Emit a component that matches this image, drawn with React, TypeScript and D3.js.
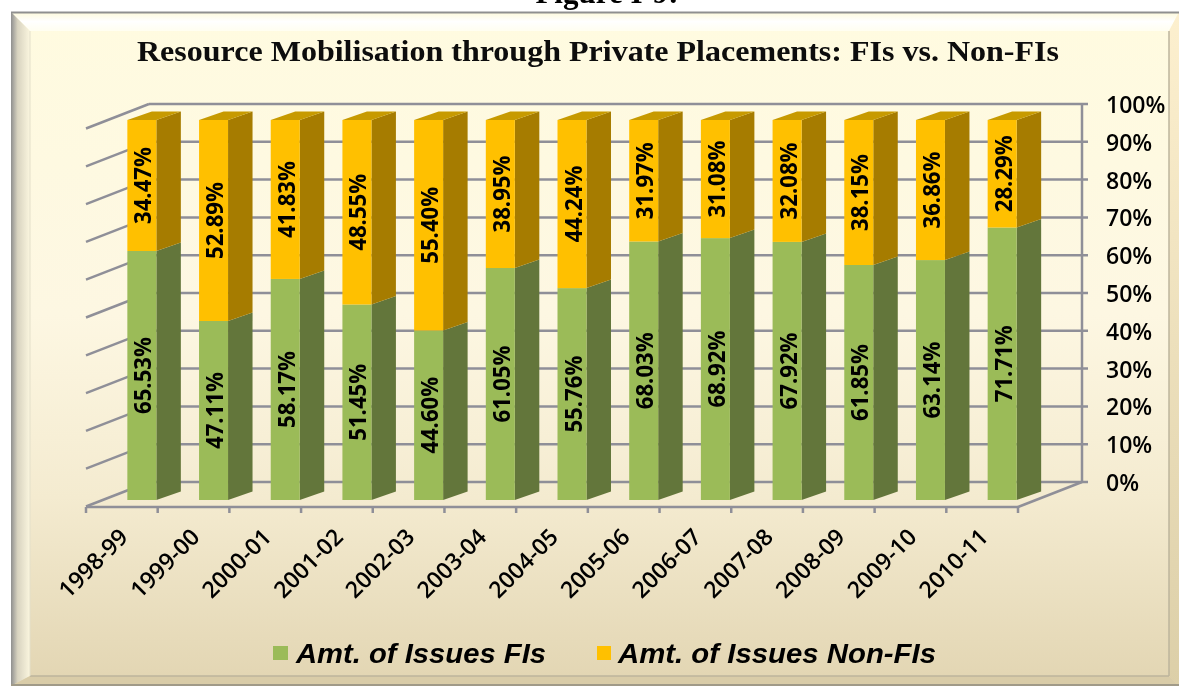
import React from "react";
import * as d3 from "d3";

const categories = ["1998-99","1999-00","2000-01","2001-02","2002-03","2003-04","2004-05","2005-06","2006-07","2007-08","2008-09","2009-10","2010-11"];
const fis = [65.53,47.11,58.17,51.45,44.6,61.05,55.76,68.03,68.92,67.92,61.85,63.14,71.71];
const nonFis = [34.47,52.89,41.83,48.55,55.4,38.95,44.24,31.97,31.08,32.08,38.15,36.86,28.29];
const yTicks = [0,10,20,30,40,50,60,70,80,90,100];
const seriesNames = ["Amt. of Issues FIs","Amt. of Issues Non-FIs"];
const title = "Resource Mobilisation through Private Placements: FIs vs. Non-FIs";

const GRID = "#8f8f98";
const GREEN = "#9bbb59", GREEN_SIDE = "#64763a";
const ORANGE = "#ffc000", ORANGE_SIDE = "#a67c00", ORANGE_TOP = "#c79a00";
const LABEL_FONT = "'Open Sans', 'Noto Sans', sans-serif";

const x = d3.scaleBand<string>().domain(categories).range([86, 1018]);
const yFront = d3.scaleLinear().domain([0, 100]).range([500, 120]);
const yBack = d3.scaleLinear().domain([0, 100]).range([482, 104]);
const yFmt = (v: number) => `${v}%`;
const pct = (v: number) => `${v.toFixed(2)}%`;

const BAR_W = 29, DX = 24.5, DY = 8.5, SHIFT = 20;
const WALL_L = 149, WALL_R = 1082, FLOOR_DX = 63, FLOOR_DY = 24.5;
const pts = (a: number[][]) => a.map((p) => p.join(",")).join(" ");

export default function App() {
  const bw = x.bandwidth();
  return (
    <svg width={1179} height={686} viewBox="0 0 1179 686" style={{ position: "fixed", left: 0, top: 0, background: "#fff" }}>
      <defs>
        <filter id="soft" x="0" y="0" width="100%" height="100%" filterUnits="userSpaceOnUse" primitiveUnits="userSpaceOnUse">
          <feGaussianBlur stdDeviation="0.55" />
        </filter>
        <linearGradient id="bg" x1="0" y1="0" x2="0" y2="1">
          <stop offset="0" stopColor="#fffbe0" />
          <stop offset="0.45" stopColor="#fdf7e2" />
          <stop offset="0.72" stopColor="#f4ebd0" />
          <stop offset="1" stopColor="#e2d5b2" />
        </linearGradient>
        <linearGradient id="leftB" x1="0" y1="0" x2="1" y2="0">
          <stop offset="0" stopColor="#8f8f8f" />
          <stop offset="0.35" stopColor="#d8d3c0" />
          <stop offset="1" stopColor="#fbf6df" />
        </linearGradient>
        <linearGradient id="rightB" x1="0" y1="0" x2="0" y2="1">
          <stop offset="0" stopColor="#fdf0cf" />
          <stop offset="1" stopColor="#dccfa8" />
        </linearGradient>
        <linearGradient id="topB" x1="0" y1="0" x2="0" y2="1">
          <stop offset="0" stopColor="#fdf9da" />
          <stop offset="0.5" stopColor="#ffffff" />
          <stop offset="1" stopColor="#fffef0" />
        </linearGradient>
      </defs>

      <g filter="url(#soft)">
      <text x={607} y={3} textAnchor="middle" fontFamily="'Liberation Serif', serif" fontWeight="bold" fontSize={31} fill="#000">Figure I-9:</text>

      {/* frame */}
      <rect x={11} y={12} width={1168} height={674} fill="url(#bg)" />
      <polygon points={pts([[11,12],[1179,12],[1169,31],[30,31]])} fill="url(#topB)" />
      <polygon points={pts([[11,12],[30,31],[30,676],[11,686]])} fill="url(#leftB)" />
      <polygon points={pts([[1179,12],[1169,31],[1169,676],[1179,686]])} fill="url(#rightB)" />
      <polygon points={pts([[11,686],[30,676],[1169,676],[1179,686]])} fill="#d9cca8" />
      <line x1={11} y1={12.5} x2={1179} y2={12.5} stroke="#8f8f8f" strokeWidth={2} />
      <line x1={11} y1={685} x2={1179} y2={685} stroke="#a09a88" strokeWidth={2} />
      <line x1={30} y1={676} x2={1169} y2={676} stroke="#bdb49c" strokeWidth={1.5} />
      <line x1={1169} y1={31} x2={1169} y2={676} stroke="#bdb49c" strokeWidth={1.5} />
      <line x1={30} y1={31} x2={30} y2={676} stroke="#e3dfca" strokeWidth={1} />

      <text x={598} y={60.5} textAnchor="middle" fontFamily="'Liberation Serif', serif" fontWeight="bold" fontSize={30} textLength={922} lengthAdjust="spacingAndGlyphs" fill="#0a0a0a">{title}</text>

      {/* walls */}
      <g stroke={GRID} strokeWidth={2.5} fill="none">
        {yTicks.map((t) => (
          <g key={t}>
            <line x1={WALL_L} x2={WALL_R + 6} y1={yBack(t)} y2={yBack(t)} />
            <line x1={WALL_L - FLOOR_DX} y1={yBack(t) + FLOOR_DY} x2={WALL_L} y2={yBack(t)} />
          </g>
        ))}
        <line x1={WALL_R} x2={WALL_R} y1={yBack(0)} y2={yBack(100)} />
        <line x1={86} x2={1018} y1={507} y2={507} />
        <line x1={1018} y1={507} x2={WALL_R} y2={yBack(0)} />
        {[...categories.map((c) => x(c)!), 1018].map((tx, i) => (
          <line key={i} x1={tx} x2={tx} y1={507} y2={513} />
        ))}
      </g>

      {yTicks.map((t) => (
        <text key={t} x={1106} y={yBack(t) + 9} fontFamily={LABEL_FONT} fontWeight={600} fontSize={23} fill="#000">{yFmt(t)}</text>
      ))}

      {/* bars */}
      {categories.map((c, i) => {
        const x0 = x(c)! + bw / 2 + SHIFT - BAR_W / 2;
        const x1 = x0 + BAR_W;
        const yMid = yFront(fis[i]);
        const yBase = yFront(0), yTop = yFront(100);
        return (
          <g key={c}>
            <polygon points={pts([[x1,yBase],[x1+DX,yBase-DY],[x1+DX,yMid-DY],[x1,yMid]])} fill={GREEN_SIDE} />
            <polygon points={pts([[x1,yMid],[x1+DX,yMid-DY],[x1+DX,yTop-DY],[x1,yTop]])} fill={ORANGE_SIDE} />
            <polygon points={pts([[x0,yTop],[x0+DX,yTop-DY],[x1+DX,yTop-DY],[x1,yTop]])} fill={ORANGE_TOP} />
            <rect x={x0} y={yMid} width={BAR_W} height={yBase - yMid} fill={GREEN} />
            <rect x={x0} y={yTop} width={BAR_W} height={yMid - yTop} fill={ORANGE} />
            <text transform={`translate(${x0 + BAR_W / 2 + 9.5},${(yBase + yMid) / 2}) rotate(-90)`} textAnchor="middle" fontFamily={LABEL_FONT} fontWeight={700} fontSize={24} textLength={77} lengthAdjust="spacingAndGlyphs" fill="#000">{pct(fis[i])}</text>
            <text transform={`translate(${x0 + BAR_W / 2 + 9.5},${(yMid + yTop) / 2}) rotate(-90)`} textAnchor="middle" fontFamily={LABEL_FONT} fontWeight={700} fontSize={24} textLength={77} lengthAdjust="spacingAndGlyphs" fill="#000">{pct(nonFis[i])}</text>
            <text transform={`translate(${x(c)! + bw / 2 - 30 + 7},${569}) rotate(-45)`} textAnchor="middle" fontFamily={LABEL_FONT} fontWeight={600} fontSize={23} fill="#000">{c}</text>
          </g>
        );
      })}

      {/* legend */}
      <rect x={273} y={646} width={15} height={14} fill={GREEN} />
      <text x={296} y={663} fontFamily="'Liberation Sans', sans-serif" fontWeight="bold" fontStyle="italic" fontSize={28} textLength={250} lengthAdjust="spacingAndGlyphs" fill="#000">{seriesNames[0]}</text>
      <rect x={597} y={646} width={14} height={14} fill={ORANGE} />
      <text x={618} y={663} fontFamily="'Liberation Sans', sans-serif" fontWeight="bold" fontStyle="italic" fontSize={28} textLength={318} lengthAdjust="spacingAndGlyphs" fill="#000">{seriesNames[1]}</text>
      </g>
    </svg>
  );
}
